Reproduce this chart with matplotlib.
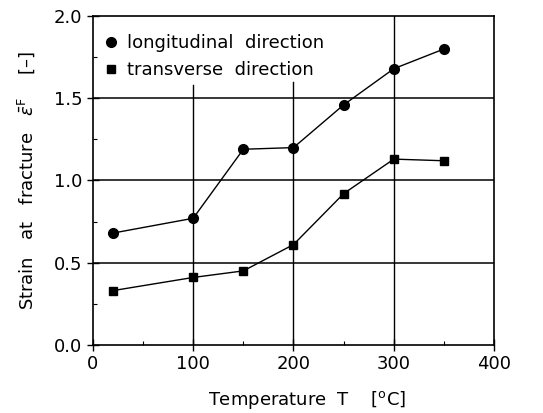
import matplotlib.pyplot as plt
from matplotlib.ticker import MultipleLocator

# Dados
temperature = [20, 100, 150, 200, 250, 300, 350]
longitudinal = [0.68, 0.77, 1.19, 1.20, 1.46, 1.68, 1.80]
transverse = [0.33, 0.41, 0.45, 0.61, 0.92, 1.13, 1.12]

fig = plt.figure(figsize=(5.43, 4.13), dpi=100)
ax = fig.add_axes([0.171, 0.165, 0.739, 0.796])

# grade: horizontais em toda a largura, verticais interrompidas pela legenda
for yv in [0.5, 1.0, 1.5]:
    ax.axhline(yv, color='black', linewidth=1.1, zorder=1)
ax.axvline(100, ymax=0.79, color='black', linewidth=1.0, zorder=1)
ax.axvline(200, ymax=0.80, color='black', linewidth=1.0, zorder=1)
ax.axvline(300, color='black', linewidth=1.0, zorder=1)

ax.plot(temperature, longitudinal, color='black', linewidth=1.0, marker='o',
        markersize=7, label='longitudinal  direction', zorder=3)
ax.plot(temperature, transverse, color='black', linewidth=1.0, marker='s',
        markersize=6, label='transverse  direction', zorder=3)

ax.set_xlim(0, 400)
ax.set_ylim(0, 2.0)
ax.xaxis.set_major_locator(MultipleLocator(100))
ax.xaxis.set_minor_locator(MultipleLocator(50))
ax.yaxis.set_major_locator(MultipleLocator(0.5))
ax.yaxis.set_minor_locator(MultipleLocator(0.25))
ax.yaxis.set_major_formatter(plt.FormatStrFormatter('%.1f'))
ax.tick_params(which='major', direction='inout', labelsize=13, length=8, width=1)
ax.tick_params(which='minor', direction='in', length=3, width=0.8)
for s in ax.spines.values():
    s.set_linewidth(1.2)

ax.set_xlabel('Temperature  T    [$^{\\mathrm{o}}$C]', fontsize=13)
ax.set_ylabel('Strain   at   fracture   $\\bar{\\varepsilon}^{\\mathrm{F}}$    [–]',
              fontsize=13)
ax.xaxis.set_label_coords(0.535, -0.135)
ax.yaxis.set_label_coords(-0.14, 0.5)

leg = ax.legend(loc='upper left', frameon=False, fontsize=13, handlelength=0,
                handletextpad=0.9, borderaxespad=0.6, labelspacing=0.5)
for h in leg.legend_handles:
    h.set_linestyle('none')

plt.savefig('out.png', dpi=100)
